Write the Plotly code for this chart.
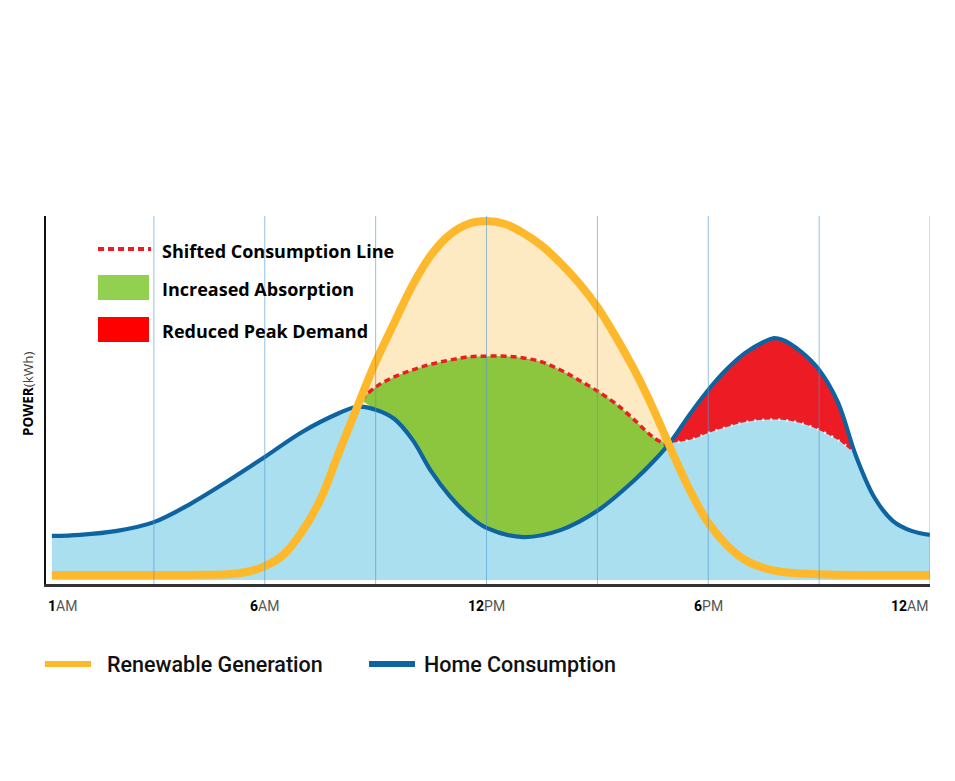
import plotly.graph_objects as go

# ---------------- data (hours since 1AM-start, arbitrary power units 0-100) -------------
hours_cons = [0.24, 1, 2, 3, 4, 5, 6, 7, 8, 8.5, 9, 9.5, 10, 10.5, 11, 11.5, 12, 13, 14, 15, 16,
              16.5, 17, 17.5, 18, 18.5, 19, 19.5, 19.75, 20, 20.5, 21, 21.5, 22, 22.5, 23, 23.5, 24]
home_consumption = [12.1, 12.4, 13.5, 15.9, 21.0, 27.2, 33.8, 40.6, 45.8, 47.6, 46.8, 44.3, 38.5,
                    29.9, 23.1, 17.9, 14.3, 11.8, 13.7, 19.0, 27.4,
                    32.4, 38.2, 45.5, 52.2, 57.9, 62.4, 65.4, 66.4, 66.0, 62.8, 57.7, 49.0, 34.0,
                    22.6, 16.2, 13.5, 12.4]

hours_gen = [0.24, 1, 2, 3, 4, 5, 5.5, 6, 6.5, 7, 7.5, 8, 8.5, 9, 9.5, 10, 10.5, 11, 11.5, 12,
             12.5, 13, 13.5, 14, 14.5, 15, 15.5, 16, 16.5, 17, 17.5, 18, 18.5, 19, 19.5, 20,
             21, 22, 23, 24]
renewable_generation = [1.4, 1.4, 1.4, 1.4, 1.4, 1.6, 2.2, 3.8, 6.9, 13.2, 22.0, 34.9, 47.5, 59.9,
                        70.6, 81.0, 89.3, 94.8, 97.8, 98.6, 97.8, 95.3, 91.8, 87.1, 81.6, 75.0,
                        66.8, 57.7, 47.3, 35.7, 24.7, 15.7, 9.6, 5.5, 3.3, 2.2, 1.6, 1.4, 1.4, 1.4]

hours_shift_day = [8.6, 9, 9.5, 10, 10.5, 11, 11.5, 12, 12.5, 13, 13.5, 14, 14.5, 15, 15.5, 16,
                   16.5, 16.9]
shifted_day = [49.5, 53.0, 55.8, 57.7, 59.3, 60.4, 61.3, 61.5, 61.5, 61.0, 59.9, 57.7, 54.9,
               51.9, 48.4, 44.0, 39.3, 36.9]

hours_shift_eve = [16.95, 17.5, 18, 18.5, 19, 19.5, 20, 20.5, 21, 21.5, 21.9]
shifted_eve = [37.6, 38.5, 40.4, 42.0, 43.4, 44.0, 44.0, 43.1, 41.2, 38.5, 35.7]

grid_hours = [3, 6, 9, 12, 15, 18, 21, 24]
tick_hours = [0.08, 6, 12, 18, 24]
tick_bold = ["1", "6", "12", "6", "12"]
tick_suffix = ["AM", "AM", "PM", "PM", "AM"]

legend_top = ["Shifted Consumption Line", "Increased Absorption", "Reduced Peak Demand"]
legend_bottom = ["Renewable Generation", "Home Consumption"]

# ---------------- colours ----------------
C_ORANGE = "#fdb92b"
C_BLUE = "#0e64a0"
C_LIGHTBLUE = "#aadff0"
C_PEACH = "#fde9c2"
C_GREEN = "#8cc63f"
C_RED = "#ed1c24"

SPL = dict(shape="spline", smoothing=1.0)


def between(xs, ys, lo, hi):
    pts = [(x, y) for x, y in zip(xs, ys) if lo < x < hi]
    return [p[0] for p in pts], [p[1] for p in pts]


fig = go.Figure()

# peach area under generation
fig.add_trace(go.Scatter(x=hours_gen, y=renewable_generation, fill="tozeroy", fillcolor=C_PEACH,
                         mode="lines", line=dict(width=0, color=C_PEACH, **SPL), hoverinfo="skip"))
# light blue area under consumption
fig.add_trace(go.Scatter(x=hours_cons, y=home_consumption, fill="tozeroy", fillcolor=C_LIGHTBLUE,
                         mode="lines", line=dict(width=0, color=C_LIGHTBLUE, **SPL), hoverinfo="skip"))

# green: between consumption and shifted (midday)
bx, by = between(hours_cons, home_consumption, hours_shift_day[0], hours_shift_day[-1])
fig.add_trace(go.Scatter(x=hours_shift_day + bx[::-1], y=shifted_day + by[::-1], fill="toself",
                         fillcolor=C_GREEN, mode="lines", line=dict(width=0, color=C_GREEN, **SPL),
                         hoverinfo="skip"))
# red: between shifted (evening) and consumption
bx, by = between(hours_cons, home_consumption, hours_shift_eve[0], hours_shift_eve[-1])
fig.add_trace(go.Scatter(x=hours_shift_eve + bx[::-1], y=shifted_eve + by[::-1], fill="toself",
                         fillcolor=C_RED, mode="lines", line=dict(width=0, color=C_RED, **SPL),
                         hoverinfo="skip"))

# shifted consumption dashed lines
fig.add_trace(go.Scatter(x=hours_shift_day, y=shifted_day, mode="lines",
                         line=dict(color=C_RED, width=3.5, dash="6px,4px", **SPL), hoverinfo="skip"))
fig.add_trace(go.Scatter(x=hours_shift_eve, y=shifted_eve, mode="lines",
                         line=dict(color="#f3fbfe", width=2.5, dash="2px,6px", **SPL), hoverinfo="skip"))

# consumption line
fig.add_trace(go.Scatter(x=hours_cons, y=home_consumption, mode="lines",
                         line=dict(color=C_BLUE, width=4.2, **SPL), hoverinfo="skip"))
# generation line
fig.add_trace(go.Scatter(x=hours_gen, y=renewable_generation, mode="lines",
                         line=dict(color=C_ORANGE, width=8, **SPL), hoverinfo="skip"))

shapes = []
# vertical grid lines on top
for g in grid_hours:
    shapes.append(dict(type="line", xref="x", yref="paper", x0=g, x1=g, y0=0, y1=1,
                       line=dict(color="rgba(80,150,205,0.6)", width=1), layer="above"))

# top legend swatches (paper coords)
PL, PW, PB, PH = 46, 884, 584, 368
def px(v):
    return (v - PL) / PW
def py(v):
    return (PB - v) / PH

shapes.append(dict(type="line", xref="paper", yref="paper", x0=px(98), x1=px(151), y0=py(249), y1=py(249),
                   line=dict(color=C_RED, width=4, dash="6px,4px"), layer="above"))
shapes.append(dict(type="rect", xref="paper", yref="paper", x0=px(98), x1=px(149), y0=py(300), y1=py(275),
                   fillcolor="#92d050", line=dict(width=0), layer="above"))
shapes.append(dict(type="rect", xref="paper", yref="paper", x0=px(98), x1=px(149), y0=py(342), y1=py(317),
                   fillcolor="#ff0000", line=dict(width=0), layer="above"))
# bottom legend swatches
shapes.append(dict(type="line", xref="paper", yref="paper", x0=px(45), x1=px(91), y0=py(664), y1=py(664),
                   line=dict(color=C_ORANGE, width=6)))
shapes.append(dict(type="line", xref="paper", yref="paper", x0=px(369), x1=px(415), y0=py(664), y1=py(664),
                   line=dict(color=C_BLUE, width=6)))

annotations = []
top_y = [251, 289, 331]
for t, yy in zip(legend_top, top_y):
    annotations.append(dict(text=t, xref="paper", yref="paper", x=px(160), y=py(yy), xanchor="left",
                            yanchor="middle", showarrow=False,
                            font=dict(family="Open Sans", size=18, color="#000000", weight="bold")))
for t, xx in zip(legend_bottom, [105, 422]):
    annotations.append(dict(text=t, xref="paper", yref="paper", x=px(xx), y=py(664), xanchor="left",
                            yanchor="middle", showarrow=False,
                            font=dict(family="Roboto", size=21.5, color="#111111", weight=500)))
# x tick labels
anchors = ["left", "center", "center", "center", "right"]
for h, b, s, a in zip(tick_hours, tick_bold, tick_suffix, anchors):
    annotations.append(dict(text=f"<b>{b}</b><span style='color:#555555'>{s}</span>", xref="x",
                            yref="paper", x=h, y=py(606), xanchor=a, yanchor="middle", showarrow=False,
                            font=dict(family="Roboto", size=14, color="#000000")))
# y axis title
annotations.append(dict(text="<b>POWER</b><span style='color:#444444'>(kWh)</span>", xref="paper",
                        yref="paper", x=px(28), y=py(394), xanchor="center", yanchor="middle",
                        textangle=-90, showarrow=False,
                        font=dict(family="Open Sans", size=13.5, color="#000000")))

fig.update_layout(
    width=955, height=781,
    margin=dict(l=46, r=25, t=216, b=197),
    paper_bgcolor="white", plot_bgcolor="white",
    showlegend=False,
    shapes=shapes,
    annotations=annotations,
    xaxis=dict(range=[0.08, 24], showgrid=False, zeroline=False, showticklabels=False, ticks="",
               showline=True, linecolor="#333333", linewidth=3, fixedrange=True),
    yaxis=dict(range=[-1.1, 100], showgrid=False, zeroline=False, showticklabels=False, ticks="",
               showline=True, linecolor="#111111", linewidth=1.5, fixedrange=True),
)

fig.write_html("out.html")
